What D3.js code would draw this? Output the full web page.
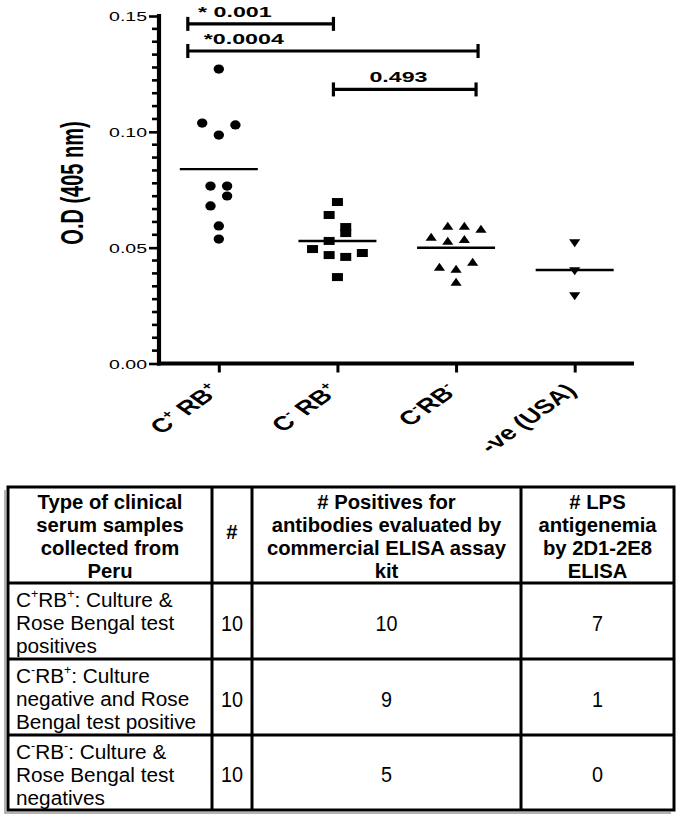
<!DOCTYPE html>
<html><head><meta charset="utf-8">
<script src="https://cdn.jsdelivr.net/npm/d3@7"></script>
<style>body{margin:0;background:#fff}svg{display:block}</style>
</head><body>
<svg id="c" width="682" height="817"></svg>
<script>
// ---------------- DATA ----------------
const categories = ["C^+ RB^+", "C^- RB^+", "C^-RB^-", "-ve (USA)"];
const cPosRBPos = [0.1271, 0.1038, 0.1030, 0.0986, 0.0766, 0.0766, 0.0723, 0.0680, 0.0594, 0.0537];
const cPosRBPosSlot = [0, -2, 2, 0, -1, 1, 1, -1, 0, 0];
const cNegRBPos = [0.0697, 0.0641, 0.0589, 0.0563, 0.0529, 0.0494, 0.0468, 0.0460, 0.0477, 0.0373];
const cNegRBPosSlot = [0, -1, 1, 1, -1, -3, -1, 1, 3, 0];
const cNegRBNeg = [0.0594, 0.0594, 0.0581, 0.0546, 0.0529, 0.0537, 0.0417, 0.0408, 0.0438, 0.0352];
const cNegRBNegSlot = [-1, 1, 3, -3, -1, 1, -2, 0, 2, 0];
const negUSA = [0.0520, 0.0399, 0.0291];
const negUSASlot = [0, 0, 0];
const yTicks = [0, 0.05, 0.10, 0.15];
const yTickLabels = ["0.00", "0.05", "0.10", "0.15"];
const compFrom = [0, 0, 1];
const compTo = [1, 2, 2];
const compLevel = [0.1466, 0.1349, 0.1183];
const compLabels = ["* 0.001", "*0.0004", "0.493"];

const tableHeader = [
  ["Type of clinical", "serum samples", "collected from", "Peru"],
  ["#"],
  ["# Positives for", "antibodies evaluated by", "commercial ELISA assay", "kit"],
  ["# LPS", "antigenemia", "by 2D1-2E8", "ELISA"]
];
const sampleTypes = [
  ["C^+RB^+: Culture &", "Rose Bengal test", "positives"],
  ["C^-RB^+: Culture", "negative and Rose", "Bengal test positive"],
  ["C^-RB^-: Culture &", "Rose Bengal test", "negatives"]
];
const sampleCounts = [10, 10, 10];
const elisaPositives = [10, 9, 5];
const lpsAntigenemia = [7, 1, 0];

// ---------------- LAYOUT ----------------
const FONT = "'Liberation Sans', Arial, Helvetica, sans-serif";
const SX = 1.55;      // horizontal stretch of chart text
const SLOT = 8.3;     // side-by-side spacing of scatter points
const svg = d3.select("#c").style("font-family", FONT);
svg.append("rect").attr("width", 682).attr("height", 817).attr("fill", "#fff");

const y = d3.scaleLinear().domain([0, 0.15]).range([363.5, 16]);
const x = d3.scaleLinear().domain([-0.5, 3.5]).range([159.5, 634]);
const AX = 159; // y-axis line x

function rich(sel, str, size, supScale) {
  const parts = [];
  let i = 0, buf = "";
  while (i < str.length) {
    if (str[i] === "^") { if (buf) parts.push({t: buf, s: false}); buf = ""; parts.push({t: str[i + 1], s: true}); i += 2; }
    else { buf += str[i]; i++; }
  }
  if (buf) parts.push({t: buf, s: false});
  let shifted = false;
  parts.forEach(p => {
    const ts = sel.append("tspan").text(p.t);
    if (p.s) {
      ts.attr("font-size", size * supScale);
      if (!shifted) { ts.attr("dy", -size * 0.42); shifted = true; }
    } else {
      ts.attr("font-size", size);
      if (shifted) { ts.attr("dy", size * 0.42); shifted = false; }
    }
  });
}

// ---- axes ----
const yAxis = d3.axisLeft(y).tickValues(yTicks).tickSize(10).tickSizeOuter(0)
  .tickFormat((d, i) => yTickLabels[i]);
const gy = svg.append("g").attr("transform", `translate(${AX},0)`).call(yAxis);
gy.select(".domain").remove();
gy.selectAll(".tick line").attr("stroke", "#000").attr("stroke-width", 2.6);
gy.selectAll(".tick text")
  .attr("x", -12 / 1.5).attr("dy", "0.36em")
  .attr("transform", `scale(1.5,1)`)
  .attr("font-size", 13).attr("font-family", FONT).attr("fill", "#000");

// minor ticks
const minor = d3.range(0, 28).map(k => k * 0.05 / 9).filter(v => v <= 0.1501 && Math.abs((v / 0.05) - Math.round(v / 0.05)) > 1e-6);
svg.append("g").selectAll("line").data(minor).join("line")
  .attr("x1", AX - 7).attr("x2", AX).attr("y1", d => y(d)).attr("y2", d => y(d))
  .attr("stroke", "#000").attr("stroke-width", 2.6);

const xAxis = d3.axisBottom(x).tickValues([0, 1, 2, 3]).tickSize(9).tickSizeOuter(0).tickFormat("");
const gx = svg.append("g").attr("transform", `translate(0,${y(0)})`).call(xAxis);
gx.select(".domain").remove();
gx.selectAll(".tick line").attr("stroke", "#000").attr("stroke-width", 3);

svg.append("line").attr("x1", AX).attr("x2", AX).attr("y1", y(0.15) - 2).attr("y2", y(0) + 2)
  .attr("stroke", "#000").attr("stroke-width", 4.2);
svg.append("line").attr("x1", AX - 2).attr("x2", x(3.5)).attr("y1", y(0)).attr("y2", y(0))
  .attr("stroke", "#000").attr("stroke-width", 4.2);

// x labels
const XSX = 1.4;
categories.forEach((c, i) => {
  const t = svg.append("text")
    .attr("transform", `translate(${x(i) + 3},392) scale(${XSX},1) rotate(-45)`)
    .attr("text-anchor", "end").attr("font-weight", "bold").attr("fill", "#000");
  rich(t, c, 19.5, 0.58);
});

// y title
svg.append("text")
  .attr("transform", `translate(83,183) scale(${SX},1) rotate(-90)`)
  .attr("text-anchor", "middle").attr("font-weight", "bold").attr("font-size", 20)
  .text("O.D (405 nm)");

// ---- scatter ----
const shapes = {
  circle: "M-5.2,0A5.2,4.6 0 1,0 5.2,0A5.2,4.6 0 1,0 -5.2,0Z",
  square: "M-5.5,-4H5.5V4H-5.5Z",
  up: "M0,-4.2L5.6,3.8H-5.6Z",
  down: "M0,4.2L5.6,-3.8H-5.6Z"
};
const groups = [
  {values: cPosRBPos, slots: cPosRBPosSlot, shape: "circle"},
  {values: cNegRBPos, slots: cNegRBPosSlot, shape: "square"},
  {values: cNegRBNeg, slots: cNegRBNegSlot, shape: "up"},
  {values: negUSA, slots: negUSASlot, shape: "down"}
];
groups.forEach((g, i) => {
  const pts = g.values.map((v, j) => ({v, s: g.slots[j]}));
  svg.append("g").selectAll("path").data(pts).join("path")
    .attr("d", shapes[g.shape]).attr("fill", "#000")
    .attr("transform", d => `translate(${x(i) + d.s * SLOT},${y(d.v)})`);
  const m = d3.mean(g.values);
  svg.append("line").attr("x1", x(i) - 39).attr("x2", x(i) + 39)
    .attr("y1", y(m)).attr("y2", y(m)).attr("stroke", "#000").attr("stroke-width", 2.4);
});

// ---- comparison brackets ----
const bracketOff = [[-31, -4], [-31, 22], [-4, 20]];
const labelOff = [47, 56, 65];
compLabels.forEach((lab, k) => {
  const x1 = x(compFrom[k]) + bracketOff[k][0], x2 = x(compTo[k]) + bracketOff[k][1];
  const yy = y(compLevel[k]);
  const g = svg.append("g").attr("stroke", "#000").attr("stroke-width", 3.2);
  g.append("line").attr("x1", x1).attr("x2", x2).attr("y1", yy).attr("y2", yy);
  g.append("line").attr("x1", x1).attr("x2", x1).attr("y1", yy - 7).attr("y2", yy + 7);
  g.append("line").attr("x1", x2).attr("x2", x2).attr("y1", yy - 7).attr("y2", yy + 7);
  svg.append("text").attr("transform", `translate(${x1 + labelOff[k]},${yy - 7}) scale(${SX},1)`)
    .attr("text-anchor", "middle").attr("font-weight", "bold").attr("font-size", 15).text(lab);
});

// ---------------- TABLE ----------------
const colX = [8, 212, 252, 521, 674];
const rowY = [487, 583, 659, 735, 810];
const TF = 21;
svg.append("path").attr("d", `M5,490V813H671`).attr("fill", "none").attr("stroke", "#9a9a9a").attr("stroke-width", 1.5);
const tg = svg.append("g").attr("stroke", "#000").attr("stroke-width", 3);
tg.append("rect").attr("x", colX[0]).attr("y", rowY[0]).attr("width", colX[4] - colX[0]).attr("height", rowY[4] - rowY[0]).attr("fill", "none");
colX.slice(1, 4).forEach(cx => tg.append("line").attr("x1", cx).attr("x2", cx).attr("y1", rowY[0]).attr("y2", rowY[4]));
rowY.slice(1, 4).forEach(ry => tg.append("line").attr("x1", colX[0]).attr("x2", colX[4]).attr("y1", ry).attr("y2", ry));

tableHeader.forEach((lines, c) => {
  const cx = (colX[c] + colX[c + 1]) / 2;
  const n = lines.length;
  lines.forEach((ln, k) => {
    const by = n === 1 ? 539 : 509 + k * 23;
    svg.append("text").attr("transform", `translate(${cx},${by}) scale(0.965,1)`)
      .attr("text-anchor", "middle").attr("font-weight", "bold").attr("font-size", TF).text(ln);
  });
});
sampleTypes.forEach((lines, r) => {
  lines.forEach((ln, k) => {
    const t = svg.append("text").attr("transform", `translate(16,${rowY[r + 1] + 24 + k * 23}) scale(0.99,1)`)
      .attr("font-size", TF);
    rich(t, ln, TF, 0.6);
  });
  const cy = (rowY[r + 1] + rowY[r + 2]) / 2 + 2;
  [sampleCounts[r], elisaPositives[r], lpsAntigenemia[r]].forEach((v, c) => {
    const cx = (colX[c + 1] + colX[c + 2]) / 2;
    svg.append("text").attr("transform", `translate(${cx},${cy}) scale(0.9,1)`)
      .attr("text-anchor", "middle").attr("dy", "0.36em").attr("font-size", 22).text(v);
  });
});
</script>
</body></html>
